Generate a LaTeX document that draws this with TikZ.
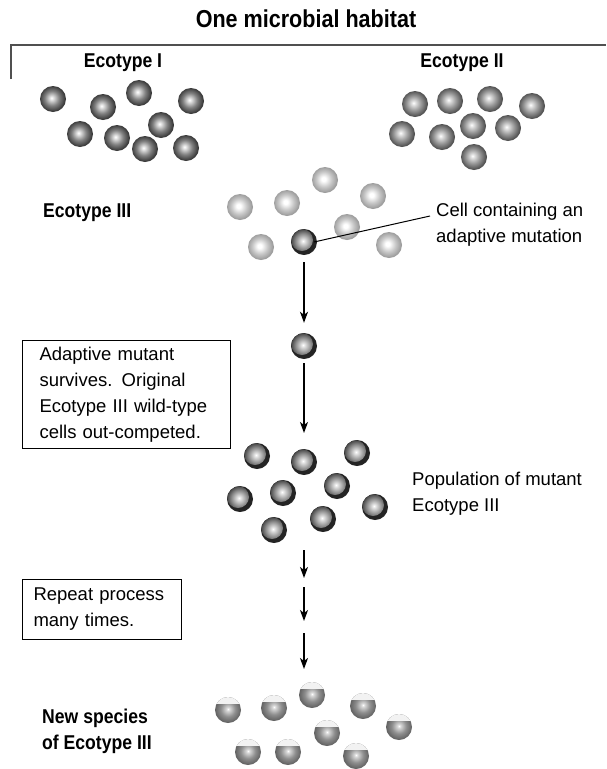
\documentclass[tikz,border=0pt]{standalone}
\usepackage{fontspec}
\setmainfont{Liberation Sans}
\newfontfamily\headfont{Liberation Sans}[FakeStretch=0.88]
\usetikzlibrary{arrows.meta}

% cell colours
\definecolor{eIedge}{HTML}{363636}
\definecolor{eImid}{HTML}{808080}
\definecolor{eIhi}{HTML}{E6E6E6}
\definecolor{eIIedge}{HTML}{4E4E4E}
\definecolor{eIImid}{HTML}{979797}
\definecolor{eIIIedge}{HTML}{9A9A9A}
\definecolor{eIIImid}{HTML}{C6C6C6}
\definecolor{mutdark}{HTML}{242424}
\definecolor{mutedge}{HTML}{3C3C3C}
\definecolor{mutmid}{HTML}{8C8C8C}
\definecolor{nsedge}{HTML}{626262}
\definecolor{nsmid}{HTML}{8E8E8E}
\definecolor{nshi}{HTML}{DADADA}
\definecolor{capgray}{HTML}{F2F2F2}
\definecolor{framegray}{HTML}{505050}

\pgfdeclareradialshading{ballI}{\pgfpoint{-3bp}{2bp}}{%
  color(0bp)=(white); color(3bp)=(eIhi); color(14bp)=(eImid);
  color(25bp)=(eIedge); color(50bp)=(eIedge)}
\pgfdeclareradialshading{ballII}{\pgfpoint{-3bp}{2bp}}{%
  color(0bp)=(white); color(3bp)=(eIhi); color(14bp)=(eIImid);
  color(25bp)=(eIIedge); color(50bp)=(eIIedge)}
\pgfdeclareradialshading{ballIII}{\pgfpoint{-3bp}{2bp}}{%
  color(0bp)=(white); color(4bp)=(white); color(15bp)=(eIIImid);
  color(25bp)=(eIIIedge); color(50bp)=(eIIIedge)}
\pgfdeclareradialshading{ballMut}{\pgfpoint{-2bp}{2bp}}{%
  color(0bp)=(white); color(3bp)=(eIhi); color(15bp)=(mutmid);
  color(25bp)=(mutedge); color(50bp)=(mutedge)}
\pgfdeclareradialshading{ballNew}{\pgfpoint{0bp}{2bp}}{%
  color(0bp)=(white); color(3bp)=(nshi); color(14bp)=(nsmid);
  color(25bp)=(nsedge); color(50bp)=(nsedge)}

\begin{document}
\begin{tikzpicture}[x=1pt,y=-1pt,
  cell/.style={circle,inner sep=0pt,minimum size=26pt},
  ecoI/.style={cell,shading=ballI},
  ecoII/.style={cell,shading=ballII},
  ecoIII/.style={cell,shading=ballIII},
  mutant/.style={cell,fill=mutdark,
    path picture={\shade[shading=ballMut]
      ([shift={(-2pt,2pt)}]path picture bounding box.center) circle (11pt);}},
  newcell/.style={cell,shading=ballNew,
    path picture={\fill[capgray] (path picture bounding box.north west)
      rectangle ([yshift=6.5pt]path picture bounding box.east);}},
  heading/.style={font=\headfont\bfseries\fontsize{20}{26}\selectfont,inner sep=0pt},
  body/.style={font=\fontsize{18.5}{26}\selectfont,inner sep=0pt,align=left},
  notebox/.style={draw,line width=1pt,align=left,anchor=north west,
    font=\fontsize{18.5}{26}\selectfont},
  arr/.style={line width=1.4pt,-{Stealth[length=11pt,width=8pt,inset=3pt]}}]

\useasboundingbox (0,0) rectangle (606,769);

% habitat title and frame
\node[font=\headfont\bfseries\fontsize{24.5}{28}\selectfont,inner sep=0pt]
  (title) at (306,19) {One microbial habitat};
\draw[framegray,line width=1.5pt] (11,79) -- (11,45) -- (606,45);

% ecotype labels
\node[heading] (labI) at (123,63) {Ecotype I};
\node[heading] (labII) at (462,63) {Ecotype II};
\node[heading,anchor=west] (labIII) at (43,213) {Ecotype III};

% Ecotype I cells
\foreach \n/\p in {1/{(53,99)},2/{(103,107)},3/{(139,93)},4/{(191,101)},
  5/{(80,134)},6/{(117,138)},7/{(161,125)},8/{(145,149)},9/{(186,148)}}
  \node[ecoI] (eI\n) at \p {};

% Ecotype II cells
\foreach \n/\p in {1/{(415,104)},2/{(450,101)},3/{(490,99)},4/{(532,106)},
  5/{(402,134)},6/{(442,137)},7/{(473,126)},8/{(508,128)},9/{(474,157)}}
  \node[ecoII] (eII\n) at \p {};

% Ecotype III cells with one mutant
\foreach \n/\p in {1/{(240,207)},2/{(287,203)},3/{(325,180)},4/{(373,196)},
  5/{(347,227)},6/{(261,247)},7/{(389,245)}}
  \node[ecoIII] (eIII\n) at \p {};
\node[mutant] (m1) at (304,242) {};

\node[body,anchor=west] (cellnote) at (436,225)
  {Cell containing an\\adaptive mutation};
\draw[line width=1pt] (m1.center) ++(10pt,0pt) coordinate (m1r)
  (m1r) -- ([shift={(-6pt,9pt)}]cellnote.west);

% surviving mutant
\node[mutant] (m2) at (304,346) {};
\draw[arr] ([yshift=-7pt]m1.south) -- ([yshift=10pt]m2.north);

\node[notebox,text width=174pt,inner xsep=17pt,inner ysep=0pt,minimum height=108pt]
  (box1) at (22,340)
  {Adaptive mutant\\survives. Original\\Ecotype III wild-type\\cells out-competed.};

% mutant population
\foreach \n/\p in {1/{(257,456)},2/{(304,462)},3/{(357,453)},4/{(240,499)},
  5/{(283,493)},6/{(337,486)},7/{(375,507)},8/{(274,530)},9/{(323,519)}}
  \node[mutant] (pop\n) at \p {};
\coordinate (popin) at (304,433);
\draw[arr] ([yshift=-4pt]m2.south) -- (popin);

\node[body,anchor=west] (popnote) at (412,494)
  {Population of mutant\\Ecotype III};

% repeated rounds
\coordinate (r1a) at (304,550);
\coordinate (r1b) at (304,578);
\coordinate (r2a) at (304,587);
\coordinate (r2b) at (304,621);
\coordinate (r3a) at (304,633);
\coordinate (r3b) at (304,669);
\draw[arr] (r1a) -- (r1b);
\draw[arr] (r2a) -- (r2b);
\draw[arr] (r3a) -- (r3b);

\node[notebox,text width=137pt,inner xsep=11pt,inner ysep=0pt,minimum height=60pt]
  (box2) at (22,579) {Repeat process\\many times.};

% new species
\foreach \n/\p in {1/{(228,710)},2/{(274,708)},3/{(312,695)},4/{(363,706)},
  5/{(399,727)},6/{(327,733)},7/{(248,752)},8/{(288,752)},9/{(356,756)}}
  \node[newcell] (ns\n) at \p {};

\node[heading,anchor=west,align=left] (nslab) at (42,731)
  {New species\\of Ecotype III};

\end{tikzpicture}
\end{document}
